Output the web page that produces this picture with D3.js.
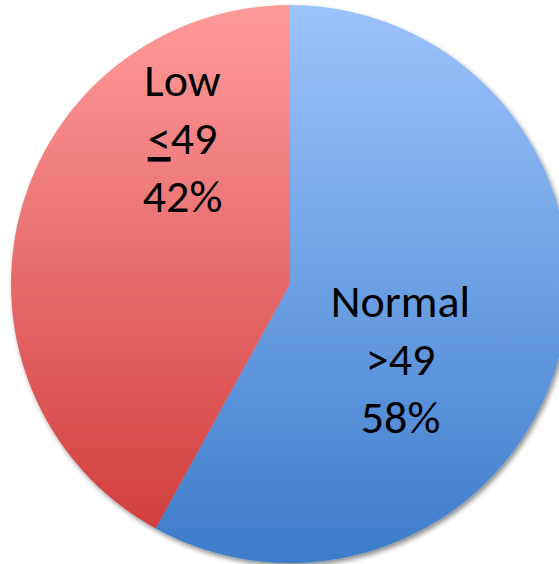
<!DOCTYPE html>
<html>
<head>
<meta charset="utf-8">
<script src="https://cdn.jsdelivr.net/npm/d3@7"></script>
<style>
  html, body { margin: 0; padding: 0; background: #ffffff; }
  svg { display: block; }
  text { font-family: Carlito, Calibri, "Open Sans", sans-serif; fill: #000; }
</style>
</head>
<body>
<script>
// Ejection-fraction groups and their share of patients
const categories = ["Normal", "Low"];
const thresholdSigns = [">", "<"];   // "<" is drawn underlined (≤)
const thresholdValues = ["49", "49"];
const shares = [58, 42];

const width = 559, height = 564;
const cx = 290, cy = 284, radius = 279;

// gradient stops per slice: top colour, bottom colour
const sliceColors = {
  Normal: ["#9dc3fd", "#3d7cca"],
  Low:    ["#ff9b9b", "#d13f3e"]
};

const svg = d3.select("body").append("svg")
  .attr("width", width)
  .attr("height", height);

const defs = svg.append("defs");

const shadow = defs.append("filter")
  .attr("id", "pieShadow")
  .attr("x", "-10%").attr("y", "-10%")
  .attr("width", "120%").attr("height", "120%");
shadow.append("feGaussianBlur").attr("in", "SourceAlpha").attr("stdDeviation", 2.5).attr("result", "blur");
shadow.append("feOffset").attr("in", "blur").attr("dx", 2).attr("dy", 3).attr("result", "off");
shadow.append("feComponentTransfer").attr("in", "off").attr("result", "soft")
  .append("feFuncA").attr("type", "linear").attr("slope", 0.45);
const merge = shadow.append("feMerge");
merge.append("feMergeNode").attr("in", "soft");
merge.append("feMergeNode").attr("in", "SourceGraphic");

categories.forEach(c => {
  const g = defs.append("linearGradient")
    .attr("id", "grad-" + c)
    .attr("x1", 0).attr("y1", 0).attr("x2", 0).attr("y2", 1);
  g.append("stop").attr("offset", "0%").attr("stop-color", sliceColors[c][0]);
  g.append("stop").attr("offset", "100%").attr("stop-color", sliceColors[c][1]);
});

const data = categories.map((c, i) => ({
  category: c, sign: thresholdSigns[i], threshold: thresholdValues[i], share: shares[i]
}));

const pie = d3.pie().sort(null).value(d => d.share);
const arc = d3.arc().innerRadius(0).outerRadius(radius);

const chart = svg.append("g")
  .attr("transform", `translate(${cx},${cy})`);

chart.append("g")
  .attr("filter", "url(#pieShadow)")
  .selectAll("path")
  .data(pie(data))
  .join("path")
  .attr("d", arc)
  .attr("fill", d => `url(#grad-${d.data.category})`);

// label block centres (middle-line baseline), relative to the pie centre
const labelAnchor = {
  Low:    [-107.5, -130],
  Normal: [110.5, 91]
};
const lineGap = 58;
const fontSize = 46;

const labels = chart.selectAll("text.slice-label")
  .data(pie(data))
  .join("text")
  .attr("class", "slice-label")
  .attr("text-anchor", "middle")
  .attr("font-size", fontSize)
  .attr("transform", d => `translate(${labelAnchor[d.data.category][0]},${labelAnchor[d.data.category][1]})`);

labels.append("tspan")
  .attr("x", 0).attr("y", -lineGap)
  .text(d => d.data.category);

const thresholdLine = labels.append("tspan")
  .attr("x", 0).attr("y", 0);
thresholdLine.append("tspan")
  .attr("text-decoration", d => d.data.sign === "<" ? "underline" : null)
  .text(d => d.data.sign);
thresholdLine.append("tspan")
  .text(d => d.data.threshold);

labels.append("tspan")
  .attr("x", 0).attr("y", lineGap)
  .text(d => d.data.share + "%");
</script>
</body>
</html>
